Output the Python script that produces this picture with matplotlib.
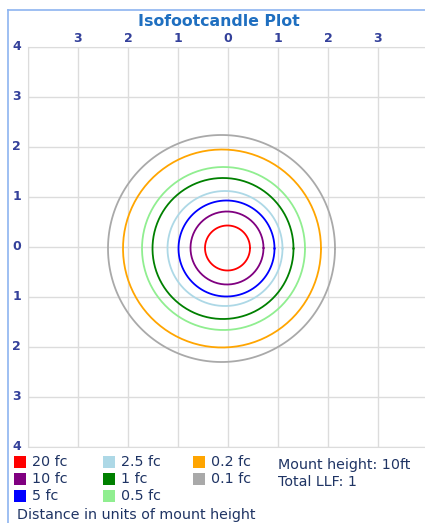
import numpy as np
import matplotlib.pyplot as plt
from matplotlib.patches import Rectangle
from matplotlib.lines import Line2D

# contour levels (distance in units of mount height)
levels = ['20 fc', '10 fc', '5 fc', '2.5 fc', '1 fc', '0.5 fc', '0.2 fc', '0.1 fc']
colors = ['#ff0000', '#800080', '#0000ff', '#add8e6', '#008000', '#90ee90', '#ffa500', '#a9a9a9']
radii = [0.45, 0.73, 0.96, 1.15, 1.41, 1.63, 1.98, 2.27]
center_x = [-0.01, -0.02, -0.03, -0.06, -0.10, -0.09, -0.12, -0.13]
center_y = [-0.02, -0.02, -0.03, -0.03, -0.03, -0.03, -0.03, -0.03]
ticks = [-3, -2, -1, 0, 1, 2, 3]
yticks = [-4, -3, -2, -1, 0, 1, 2, 3, 4]

W, H = 425, 523
fig = plt.figure(figsize=(W / 100, H / 100), dpi=100)


def fx(x):
    return x / W


def fy(y):
    return 1 - y / H


ax = fig.add_axes([fx(28), fy(447), 400 / W, 400 / H])
ax.set_xlim(-4, 4)
ax.set_ylim(-4, 4)

theta = np.linspace(0, 2 * np.pi, 200)
for r, cx, cy, c in zip(radii, center_x, center_y, colors):
    ax.plot(cx + r * np.cos(theta), cy + r * np.sin(theta), color=c, lw=1.3)

ax.set_xticks(range(-4, 5))
ax.set_yticks(range(-4, 5))
ax.grid(True, color='#dcdcdc', lw=1)
ax.set_axisbelow(True)
ax.tick_params(length=0, labelbottom=False, labelleft=False)
for s in ax.spines.values():
    s.set_color('#dcdcdc')

tick_color = '#33409a'
for t in ticks:
    ax.text(t, 4.05, str(abs(t)), ha='center', va='bottom', fontsize=9,
            fontweight='bold', color=tick_color)
for t in yticks:
    ax.text(-4.14, t, str(abs(t)), ha='right', va='center', fontsize=9,
            fontweight='bold', color=tick_color, clip_on=False)

# widget frame
fig.add_artist(Line2D([fx(8), fx(8)], [0, fy(10)], color='#8db4f0', lw=1.2))
fig.add_artist(Line2D([fx(8), 1], [fy(10), fy(10)], color='#8db4f0', lw=1.2))

fig.text(fx(219), fy(21), 'Isofootcandle Plot', ha='center', va='center',
         fontsize=11.3, fontweight='bold', color='#1f6fc0')

# legend, column-major
text_color = '#1f3464'
col_x = [14, 103, 193]
row_y = [462, 479, 496]
for i, (lab, c) in enumerate(zip(levels, colors)):
    col, row = divmod(i, 3)
    x0, y0 = col_x[col], row_y[row]
    fig.add_artist(Rectangle((fx(x0), fy(y0 + 6)), 12 / W, 12 / H,
                             transform=fig.transFigure, color=c, lw=0))
    fig.text(fx(x0 + 18), fy(y0), lab, ha='left', va='center',
             fontsize=10.3, color=text_color)

fig.text(fx(278), fy(465), 'Mount height: 10ft', ha='left', va='center',
         fontsize=10.3, color=text_color)
fig.text(fx(278), fy(482), 'Total LLF: 1', ha='left', va='center',
         fontsize=10.3, color=text_color)
fig.text(fx(17), fy(515), 'Distance in units of mount height', ha='left',
         va='center', fontsize=10.3, color=text_color)

fig.savefig('out.png', dpi=100)
